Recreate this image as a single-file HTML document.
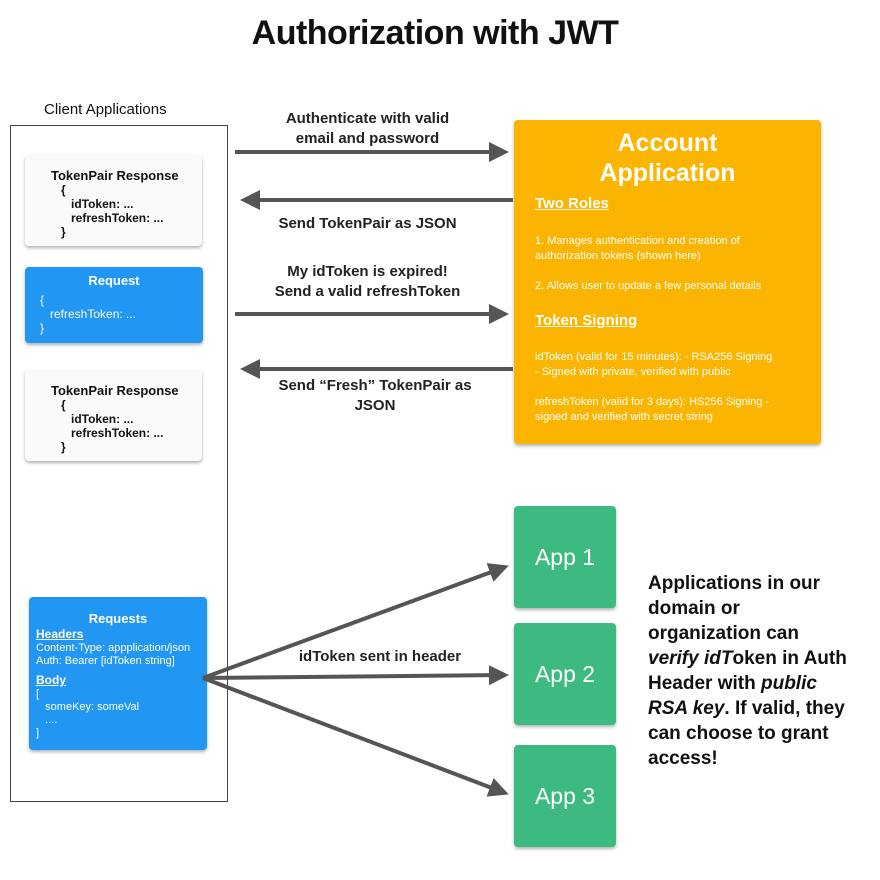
<!DOCTYPE html>
<html><head><meta charset="utf-8"><style>
body{margin:0;width:880px;height:880px;background:#fff;position:relative;overflow:hidden;font-family:"Liberation Sans",sans-serif;color:#111}
.a{position:absolute}
.card{position:absolute;border-radius:4px;box-shadow:0 2px 3px rgba(0,0,0,.3)}
.w{background:#fafafa;font-size:12px;font-weight:bold;line-height:14px}
.b{background:#2196F3;color:#fff;font-size:11px;line-height:13px}
.lbl{position:absolute;font-size:15px;font-weight:bold;text-align:center;line-height:20px;color:#222}
.app{position:absolute;left:514px;width:102px;height:102px;background:#3DBA80;border-radius:4px;color:#fff;font-size:23px;text-align:center;line-height:102px;box-shadow:0 2px 3px rgba(0,0,0,.3)}
u{text-decoration:underline}
</style></head><body>
<div class="a" style="left:0;width:870px;top:14px;text-align:center;font-size:34px;font-weight:bold;letter-spacing:-0.5px">Authorization with JWT</div>
<div class="a" style="left:44px;top:101px;font-size:15px">Client Applications</div>
<div class="a" style="left:10px;top:125px;width:216px;height:675px;border:1px solid #444"></div>

<div class="card w" style="left:25px;top:155px;width:177px;height:91px">
<div class="a" style="left:26px;top:14px;font-size:13px">TokenPair Response</div>
<div class="a" style="left:36px;top:28px">{<br>&nbsp;&nbsp;&nbsp;idToken: ...<br>&nbsp;&nbsp;&nbsp;refreshToken: ...<br>}</div></div>

<div class="card b" style="left:25px;top:267px;width:178px;height:76px">
<div class="a" style="left:0;width:178px;text-align:center;top:7px;font-size:13px;font-weight:bold">Request</div>
<div class="a" style="left:15px;top:26px;font-size:12px;line-height:14px">{<br>&nbsp;&nbsp;&nbsp;refreshToken: ...<br>}</div></div>

<div class="card w" style="left:25px;top:370px;width:177px;height:91px">
<div class="a" style="left:26px;top:14px;font-size:13px">TokenPair Response</div>
<div class="a" style="left:36px;top:28px">{<br>&nbsp;&nbsp;&nbsp;idToken: ...<br>&nbsp;&nbsp;&nbsp;refreshToken: ...<br>}</div></div>

<div class="card b" style="left:29px;top:597px;width:178px;height:153px">
<div class="a" style="left:0;width:178px;text-align:center;top:15px;font-size:13px;font-weight:bold">Requests</div>
<div class="a" style="left:7px;top:31px;font-size:11px;line-height:13px"><u style="font-size:12px;font-weight:bold">Headers</u><br>Content-Type: appplication/json<br>Auth: Bearer [idToken string]<div style="height:6px"></div><u style="font-size:12px;font-weight:bold">Body</u><br>[<br>&nbsp;&nbsp;&nbsp;someKey: someVal<br>&nbsp;&nbsp;&nbsp;....<br>]</div></div>

<div class="card" style="left:514px;top:120px;width:307px;height:324px;background:#FBB400;color:#fff">
<div class="a" style="left:0;width:307px;text-align:center;top:8px;font-size:25px;line-height:30px;font-weight:bold">Account<br>Application</div>
<div class="a" style="left:21px;top:75px;font-size:15px;font-weight:bold"><u>Two Roles</u></div>
<div class="a" style="left:21px;top:114px;font-size:11px;line-height:15px;width:255px">1. Manages authentication and creation of authorization tokens (shown here)<br><br>2. Allows user to update a few personal details</div>
<div class="a" style="left:21px;top:192px;font-size:15px;font-weight:bold"><u>Token Signing</u></div>
<div class="a" style="left:21px;top:230px;font-size:11px;line-height:15px;width:270px">idToken (valid for 15 minutes): - RSA256 Signing<br>- Signed with private, verified with public<br><br>refreshToken (valid for 3 days): HS256 Signing -<br>signed and verified with secret string</div>
</div>

<svg class="a" style="left:0;top:0" width="880" height="880">
<defs><marker id="m" markerWidth="5" markerHeight="5" refX="4" refY="2.5" orient="auto" markerUnits="strokeWidth"><path d="M0,0 L5,2.5 L0,5 z" fill="#555"/></marker></defs>
<g stroke="#555" stroke-width="4" fill="none" marker-end="url(#m)">
<line x1="235" y1="152" x2="505" y2="152"/>
<line x1="513" y1="200" x2="244" y2="200"/>
<line x1="235" y1="314" x2="505" y2="314"/>
<line x1="513" y1="369" x2="244" y2="369"/>
<line x1="203" y1="678" x2="505" y2="567"/>
<line x1="203" y1="678" x2="505" y2="675"/>
<line x1="203" y1="678" x2="505" y2="793"/>
</g></svg>

<div class="lbl" style="left:250px;width:235px;top:109px">Authenticate with valid<br>email and password</div>
<div class="lbl" style="left:250px;width:235px;top:214px">Send TokenPair as JSON</div>
<div class="lbl" style="left:250px;width:235px;top:262px">My idToken is expired!<br>Send a valid refreshToken</div>
<div class="lbl" style="left:250px;width:250px;top:376px">Send “Fresh” TokenPair as<br>JSON</div>
<div class="lbl" style="left:280px;width:200px;top:647px">idToken sent in header</div>

<div class="app" style="top:506px">App 1</div>
<div class="app" style="top:623px">App 2</div>
<div class="app" style="top:745px">App 3</div>

<div class="a" style="left:648px;top:571px;width:225px;font-size:19px;font-weight:bold;line-height:25px;color:#111">Applications in our<br>domain or<br>organization can<br><i>verify idT</i>oken in Auth<br>Header with <i>public</i><br><i>RSA key</i>. If valid, they<br>can choose to grant<br>access!</div>
</body></html>
